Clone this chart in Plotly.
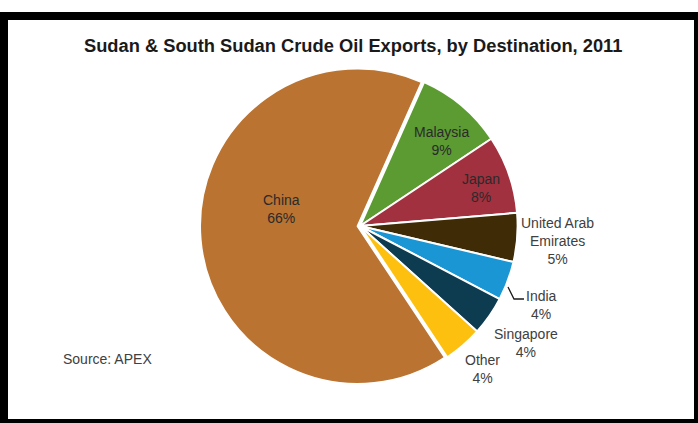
import plotly.graph_objects as go

W, H = 698, 423

# ---- data ----
labels = ["Malaysia", "Japan", "United Arab<br>Emirates", "India", "Singapore", "Other", "China"]
values = [9, 8, 5, 4, 4, 4, 66]

title = "Sudan & South Sudan Crude Oil Exports, by Destination, 2011"
source = "Source: APEX"

# ---- style ----
colors = ["#5C9A32", "#A2313F", "#3F2B05", "#1A96D4", "#0D3B50", "#FDC00F", "#BA7330"]
pulls = [0, 0, 0, 0, 0, 0, 0.015]
# label block centres in pixels (x, y)
label_pos = [(442, 141), (481, 188), (557, 241), (541, 305), (526, 343), (483, 369), (281, 209)]
label_inside = [True, True, False, False, False, False, True]

FONT = "Liberation Sans, Arial, sans-serif"

def px_x(x):
    return x / W

def px_y(y):
    return 1 - y / H

fig = go.Figure(go.Pie(
    labels=labels,
    values=values,
    sort=False,
    direction="clockwise",
    rotation=24,
    pull=pulls,
    marker=dict(colors=colors, line=dict(color="white", width=2)),
    textinfo="none",
    domain=dict(x=[px_x(199), px_x(521)], y=[px_y(386), px_y(66)]),
    showlegend=False,
    hoverinfo="label+percent",
))

total = sum(values)
annotations = []
for lab, v, (lx, ly), inside in zip(labels, values, label_pos, label_inside):
    annotations.append(dict(
        text=f"{lab}<br>{round(100 * v / total)}%",
        x=px_x(lx), y=px_y(ly), xref="paper", yref="paper",
        showarrow=False, xanchor="center", yanchor="middle", align="center",
        font=dict(family=FONT, size=14, color="#2a2a2a" if inside else "#404040"),
    ))

annotations += [
    dict(text="<b>" + title + "</b>", x=px_x(353), y=px_y(45), xref="paper", yref="paper",
         showarrow=False, xanchor="center", yanchor="middle",
         font=dict(family=FONT, size=18.3, color="#1a1a1a")),
    dict(text=source, x=px_x(61), y=px_y(359), xref="paper", yref="paper",
         showarrow=False, xanchor="left", yanchor="middle",
         font=dict(family=FONT, size=14, color="#404040")),
]

shapes = []
def rect(x0, y0, x1, y1):
    shapes.append(dict(type="rect", xref="paper", yref="paper",
                       x0=px_x(x0), x1=px_x(x1), y0=px_y(y1), y1=px_y(y0),
                       fillcolor="black", line=dict(width=0), layer="above"))

rect(0, 12, 698, 20)     # top
rect(0, 12, 8, 423)      # left
rect(694, 12, 698, 423)  # right
rect(0, 419, 698, 423)   # bottom

# leader line for India label
lead = [(508, 287), (514, 299), (524, 299)]
path = "M " + " L ".join(f"{px_x(x)},{px_y(y)}" for x, y in lead)
shapes.append(dict(type="path", xref="paper", yref="paper", path=path,
                   line=dict(color="#1a1a1a", width=1.3)))

fig.update_layout(
    width=W, height=H,
    margin=dict(l=0, r=0, t=0, b=0),
    paper_bgcolor="white",
    plot_bgcolor="white",
    shapes=shapes,
    annotations=annotations,
)

fig.write_html(
    "out.html",
    config={"displayModeBar": False},
    post_script="document.body.style.margin='0';document.body.style.overflow='hidden';",
)
